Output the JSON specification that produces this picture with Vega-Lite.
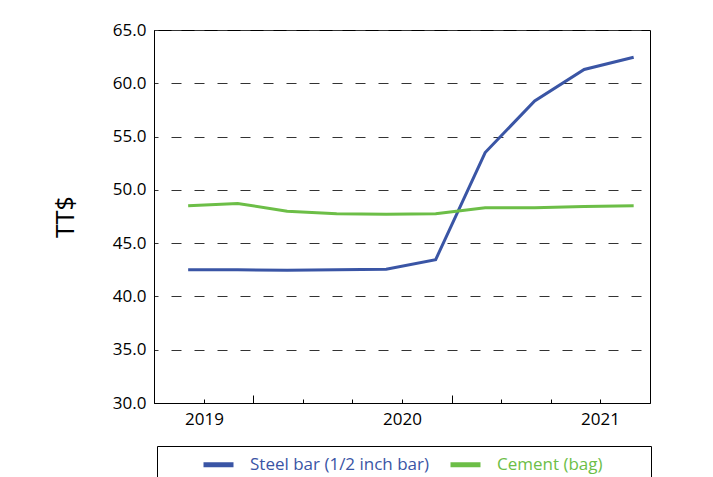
{
  "$schema": "https://vega.github.io/schema/vega-lite/v6.json",
  "width": 496,
  "height": 373,
  "autosize": {"type": "none"},
  "padding": {"left": 154, "top": 30, "right": 63, "bottom": 74},
  "background": "white",
  "config": {"font": "Open Sans", "view": {"stroke": "black", "strokeWidth": 1}},
  "data": {"values": [
    {"t": 2018.92, "series": "Steel bar (1/2 inch bar)", "value": 42.5},
    {"t": 2019.17, "series": "Steel bar (1/2 inch bar)", "value": 42.5},
    {"t": 2019.42, "series": "Steel bar (1/2 inch bar)", "value": 42.45},
    {"t": 2019.67, "series": "Steel bar (1/2 inch bar)", "value": 42.5},
    {"t": 2019.92, "series": "Steel bar (1/2 inch bar)", "value": 42.55},
    {"t": 2020.17, "series": "Steel bar (1/2 inch bar)", "value": 43.45},
    {"t": 2020.42, "series": "Steel bar (1/2 inch bar)", "value": 53.5},
    {"t": 2020.67, "series": "Steel bar (1/2 inch bar)", "value": 58.35},
    {"t": 2020.92, "series": "Steel bar (1/2 inch bar)", "value": 61.3},
    {"t": 2021.17, "series": "Steel bar (1/2 inch bar)", "value": 62.45},
    {"t": 2018.92, "series": "Cement (bag)", "value": 48.5},
    {"t": 2019.17, "series": "Cement (bag)", "value": 48.72},
    {"t": 2019.42, "series": "Cement (bag)", "value": 48.0},
    {"t": 2019.67, "series": "Cement (bag)", "value": 47.75},
    {"t": 2019.92, "series": "Cement (bag)", "value": 47.7},
    {"t": 2020.17, "series": "Cement (bag)", "value": 47.75},
    {"t": 2020.42, "series": "Cement (bag)", "value": 48.33},
    {"t": 2020.67, "series": "Cement (bag)", "value": 48.33},
    {"t": 2020.92, "series": "Cement (bag)", "value": 48.43},
    {"t": 2021.17, "series": "Cement (bag)", "value": 48.5}
  ]},
  "mark": {"type": "line", "strokeWidth": 3},
  "encoding": {
    "x": {
      "field": "t", "type": "quantitative",
      "scale": {"domain": [2018.7475, 2021.2525], "nice": false, "zero": false},
      "axis": {
        "title": null,
        "values": [2019, 2019.25, 2019.5, 2019.75, 2020, 2020.25, 2020.5, 2020.75, 2021],
        "labelExpr": "datum.value % 1 == 0 ? format(datum.value, 'd') : ''",
        "labelFontSize": 17, "labelColor": "black", "labelDx": 4, "labelDy": 11, "labelPadding": 12,
        "labelFlush": false, "labelOverlap": false,
        "tickColor": "black",
        "tickSize": {"condition": {"test": "datum.value % 1 == 0.25", "value": -8}, "value": -4},
        "domainColor": "black", "grid": false
      }
    },
    "y": {
      "field": "value", "type": "quantitative",
      "scale": {"domain": [30, 65], "nice": false, "zero": false},
      "axis": {
        "title": "TT$",
        "values": [30, 35, 40, 45, 50, 55, 60, 65],
        "format": ".1f",
        "labelFontSize": 17, "labelColor": "black", "labelPadding": 8,
        "ticks": false, "domainColor": "black",
        "grid": true, "gridColor": "#333333", "gridDash": [10, 13], "gridDashOffset": 6,
        "titleFontSize": 25, "titleFontWeight": "normal", "titleColor": "black", "titlePadding": 34
      }
    },
    "color": {
      "field": "series", "type": "nominal",
      "scale": {"domain": ["Steel bar (1/2 inch bar)", "Cement (bag)"], "range": ["#3a55a5", "#6cbe47"]},
      "legend": {
        "orient": "none", "legendX": 3, "legendY": 416,
        "direction": "horizontal",
        "title": "\u00a0", "titleOrient": "left", "titlePadding": 43, "titleFontSize": 40,
        "strokeColor": "black", "padding": 1,
        "symbolType": "stroke", "symbolStrokeWidth": 5, "symbolSize": 900,
        "labelFontSize": 17, "labelLimit": 0,
        "labelExpr": "indexof(datum.label, 'Cement') >= 0 ? datum.label + '\u2003\u2003\u00a0\u00a0\u00a0\u200b' : datum.label",
        "labelColor": {"expr": "scale('color', datum.value)"},
        "labelOffset": 14, "columnPadding": 10
      }
    }
  }
}
